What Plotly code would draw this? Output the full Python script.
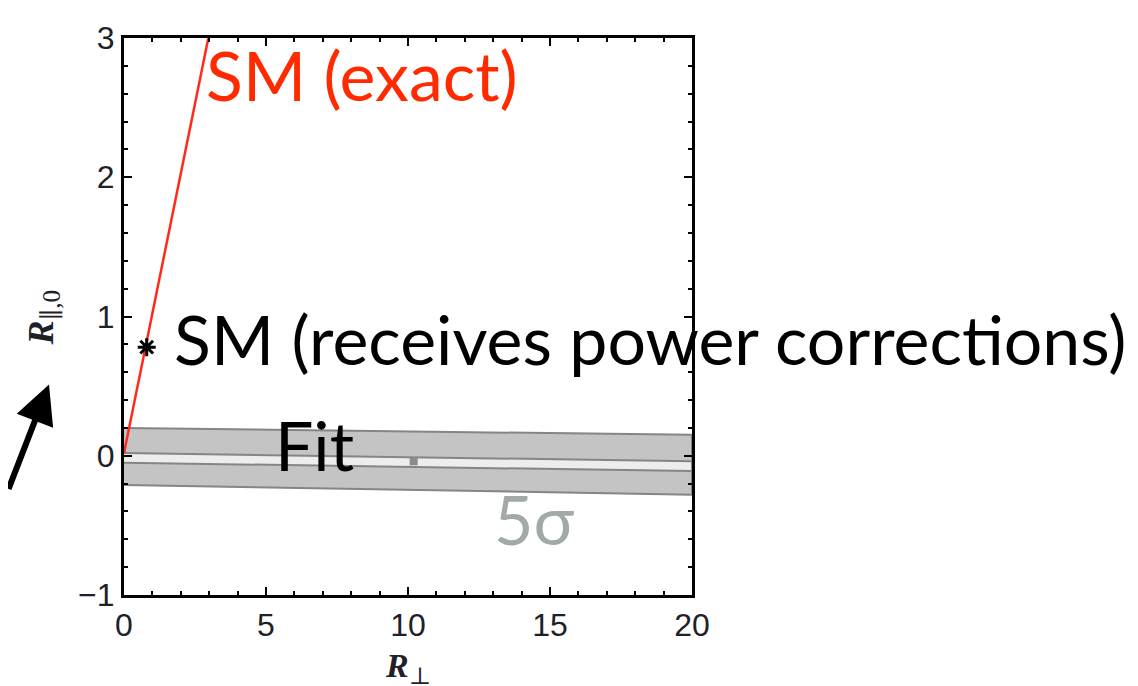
import plotly.graph_objects as go

# ---- data ----
sm_exact_x = [0.0, 2.97]
sm_exact_y = [0.02, 3.0]

sm_point_x = [0.8]
sm_point_y = [0.78]

band_x = [0, 20]
outer_upper = [0.20, 0.15]
outer_lower = [-0.21, -0.28]
inner_upper = [0.02, -0.04]
inner_lower = [-0.05, -0.11]

fit_point_x = [10.2]
fit_point_y = [-0.04]

x_ticks = [0, 5, 10, 15, 20]
y_ticks = [-1, 0, 1, 2, 3]
y_tick_text = ["\u22121", "0", "1", "2", "3"]

fig = go.Figure()

# outer (5 sigma) band
fig.add_trace(go.Scatter(
    x=band_x + band_x[::-1], y=outer_upper + outer_lower[::-1],
    fill="toself", fillcolor="#c4c4c4", mode="lines",
    line=dict(color="#858585", width=2), hoverinfo="skip", showlegend=False))
# inner light strip
fig.add_trace(go.Scatter(
    x=band_x + band_x[::-1], y=inner_upper + inner_lower[::-1],
    fill="toself", fillcolor="#ededed", mode="lines",
    line=dict(color="#858585", width=2), hoverinfo="skip", showlegend=False))
# best fit point
fig.add_trace(go.Scatter(
    x=fit_point_x, y=fit_point_y, mode="markers",
    marker=dict(symbol="square", size=8, color="#8c8c8c"), showlegend=False))
# SM exact line
fig.add_trace(go.Scatter(
    x=sm_exact_x, y=sm_exact_y, mode="lines",
    line=dict(color="#ff2a1a", width=2.5), showlegend=False))
# SM point with power corrections
fig.add_trace(go.Scatter(
    x=sm_point_x, y=sm_point_y, mode="markers", cliponaxis=False,
    marker=dict(symbol="asterisk-open", size=15, color="black",
                line=dict(color="black", width=3)), showlegend=False))

tickfont = dict(family="Liberation Sans, Arial, sans-serif", size=32, color="#1e2228")

fig.update_xaxes(
    range=[0, 20], tickvals=x_ticks, ticks="inside", ticklen=8, tickwidth=2,
    tickcolor="black", showline=True, linecolor="black", linewidth=3,
    mirror="allticks", showgrid=False, zeroline=False, tickfont=tickfont,
    ticklabelstandoff=0,
    minor=dict(ticks="inside", dtick=1, ticklen=4, tickwidth=2, tickcolor="black", showgrid=False))
fig.update_yaxes(
    range=[-1, 3], tickvals=y_ticks, ticktext=y_tick_text, ticks="inside", ticklen=8,
    tickwidth=2, tickcolor="black", showline=True, linecolor="black", linewidth=3,
    mirror="allticks", showgrid=False, zeroline=False, tickfont=tickfont,
    ticklabelstandoff=0,
    minor=dict(ticks="inside", dtick=0.2, ticklen=4, tickwidth=2, tickcolor="black", showgrid=False))

big = "Lato, Noto Sans, sans-serif"
ann = [
    dict(x=2.8, y=2.74, text="SM (exact)", color="#ff2a00"),
    dict(x=1.7, y=0.84, text="SM (receives power corrections)", color="black"),
    dict(x=5.25, y=0.08, text="Fit", color="black"),
    dict(x=12.95, y=-0.45, text="5\u03c3", color="#a3a8a8"),
]
for a in ann:
    fig.add_annotation(x=a["x"], y=a["y"], xref="x", yref="y", text=a["text"],
                       showarrow=False, xanchor="left", yanchor="middle",
                       font=dict(family=big, size=68, color=a["color"]))

# axis titles
serif = "Liberation Serif, DejaVu Serif, serif"
fig.add_annotation(x=(408 - 124) / 568, y=(595 - 669) / 566, xref="paper", yref="paper",
                   xanchor="center", yanchor="middle",
                   text="<i><b>R</b></i><sub>\u22a5</sub>", showarrow=False,
                   font=dict(family=serif, size=34, color="#1e2228"))
fig.add_annotation(x=(43 - 124) / 568, y=(595 - 313) / 566, xref="paper", yref="paper",
                   xanchor="center", yanchor="middle",
                   text="<i><b>R</b></i><sub>\u2225,0</sub>", showarrow=False, textangle=-90,
                   font=dict(family=serif, size=36, color="#1e2228"))

# arrow
fig.add_annotation(x=(49 - 124) / 568, y=(595 - 381) / 566, xref="paper", yref="paper",
                   text="", showarrow=True, ax=-64, ay=106, arrowhead=2, arrowsize=1.3,
                   arrowwidth=6, arrowcolor="black")

# page body has an 8px margin, so shift everything by -8 px
fig.update_layout(
    width=1130, height=678,
    margin=dict(l=116, r=446, t=21, b=91),
    paper_bgcolor="white", plot_bgcolor="white",
    showlegend=False,
)

fig.write_html("out.html")
